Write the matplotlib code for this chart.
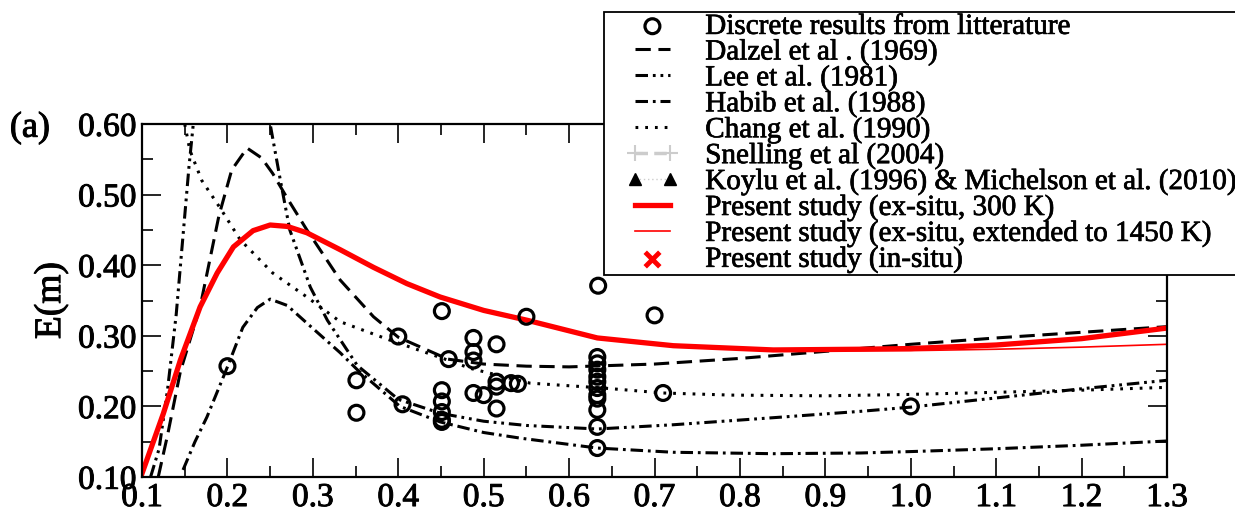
import matplotlib
matplotlib.use("Agg")
import matplotlib.pyplot as plt
from matplotlib.lines import Line2D
from matplotlib.collections import PathCollection
from matplotlib.legend_handler import HandlerLine2D, HandlerPathCollection
import matplotlib.patheffects as pe

plt.rcParams['font.family'] = ['Liberation Serif', 'DejaVu Serif']
plt.rcParams['lines.scale_dashes'] = False

# ---- data ----
lit_x = [0.2, 0.351, 0.351, 0.4, 0.405, 0.451, 0.459, 0.451, 0.451, 0.451, 0.451, 0.451,
         0.488, 0.488, 0.488, 0.488, 0.5, 0.515, 0.515, 0.515, 0.515, 0.532, 0.54, 0.55,
         0.634, 0.70, 0.71,
         0.633, 0.633, 0.633, 0.633, 0.633, 0.633, 0.633, 0.633, 0.633, 0.633, 0.633, 1.0]
lit_y = [0.257, 0.237, 0.191, 0.299, 0.203, 0.335, 0.267, 0.223, 0.207, 0.192, 0.181, 0.178,
         0.297, 0.277, 0.265, 0.219, 0.216, 0.288, 0.235, 0.228, 0.197, 0.233, 0.232, 0.327,
         0.371, 0.329, 0.219,
         0.270, 0.261, 0.242, 0.235, 0.226, 0.216, 0.211, 0.195, 0.171, 0.141, 0.252, 0.200]

dalzel_x = [0.119, 0.13, 0.145, 0.168, 0.19, 0.205, 0.223, 0.24, 0.253, 0.27, 0.293, 0.332,
            0.371, 0.4, 0.458, 0.5, 0.55, 0.6, 0.7, 0.8, 0.9, 1.0, 1.1, 1.2, 1.3]
dalzel_y = [0.10, 0.16, 0.25, 0.341, 0.47, 0.535, 0.566, 0.552, 0.53, 0.495, 0.45, 0.379,
            0.327, 0.298, 0.267, 0.260, 0.257, 0.256, 0.260, 0.268, 0.278, 0.288, 0.297, 0.305, 0.313]

lee_x = [0.11, 0.12, 0.13, 0.14, 0.145, 0.15, 0.155, 0.16, 0.17, 0.20, 0.23, 0.25, 0.262,
         0.273, 0.297, 0.317, 0.352, 0.40, 0.45, 0.5, 0.55, 0.633, 0.722, 0.839, 0.941, 1.0,
         1.1, 1.2, 1.3]
lee_y = [0.10, 0.14, 0.225, 0.33, 0.40, 0.47, 0.54, 0.60, 0.72, 0.86, 0.72, 0.60, 0.52,
         0.45, 0.369, 0.322, 0.258, 0.210, 0.190, 0.179, 0.173, 0.168, 0.174, 0.184, 0.193, 0.199,
         0.212, 0.225, 0.237]

habib_x = [0.148, 0.162, 0.176, 0.2, 0.218, 0.235, 0.25, 0.27, 0.293, 0.332, 0.352, 0.402,
           0.449, 0.5, 0.543, 0.633, 0.722, 0.839, 0.941, 1.0, 1.1, 1.2, 1.3]
habib_y = [0.11, 0.15, 0.185, 0.256, 0.312, 0.34, 0.352, 0.343, 0.318, 0.276, 0.252, 0.200,
           0.178, 0.163, 0.155, 0.141, 0.135, 0.133, 0.134, 0.136, 0.140, 0.145, 0.151]

chang_x = [0.15, 0.156, 0.17, 0.191, 0.215, 0.253, 0.293, 0.332, 0.39, 0.457, 0.484, 0.554,
           0.64, 0.71, 0.79, 0.9, 1.0, 1.1, 1.2, 1.3]
chang_y = [0.60, 0.563, 0.52, 0.482, 0.436, 0.389, 0.355, 0.320, 0.294, 0.266, 0.254, 0.233,
           0.226, 0.219, 0.216, 0.215, 0.217, 0.220, 0.223, 0.227]

ex300_x = [0.1, 0.125, 0.145, 0.168, 0.188, 0.207, 0.23, 0.25, 0.27, 0.293, 0.332, 0.371,
           0.41, 0.449, 0.5, 0.551, 0.633, 0.722, 0.839, 0.941, 1.0, 1.1, 1.2, 1.3]
ex300_y = [0.105, 0.19, 0.266, 0.341, 0.389, 0.426, 0.449, 0.457, 0.455, 0.446, 0.422, 0.397,
           0.374, 0.355, 0.336, 0.322, 0.297, 0.286, 0.280, 0.281, 0.282, 0.287, 0.296, 0.311]

ex1450_x = [0.1, 0.125, 0.145, 0.168, 0.188, 0.207, 0.23, 0.25, 0.27, 0.293, 0.332, 0.371,
            0.41, 0.449, 0.5, 0.551, 0.633, 0.722, 0.839, 0.941, 1.0, 1.1, 1.2, 1.3]
ex1450_y = [0.105, 0.19, 0.266, 0.341, 0.389, 0.426, 0.449, 0.457, 0.455, 0.446, 0.422, 0.397,
            0.374, 0.355, 0.336, 0.322, 0.297, 0.286, 0.280, 0.279, 0.279, 0.281, 0.284, 0.288]

x_ticks = [0.1, 0.2, 0.3, 0.4, 0.5, 0.6, 0.7, 0.8, 0.9, 1.0, 1.1, 1.2, 1.3]
y_ticks = [0.10, 0.20, 0.30, 0.40, 0.50, 0.60]

labels = ["Discrete results from litterature", "Dalzel et al . (1969)", "Lee et al. (1981)",
          "Habib et al. (1988)", "Chang et al. (1990)", "Snelling et al (2004)",
          "Koylu et al. (1996) & Michelson et al. (2010)", "Present study (ex-situ, 300 K)",
          "Present study (ex-situ, extended to 1450 K)", "Present study (in-situ)"]

# ---- figure ----
fig = plt.figure(figsize=(12.35, 5.17), dpi=100)
ax = fig.add_axes([0.115, 0.0774, 0.830, 0.6826])

heavy = [pe.withStroke(linewidth=0.7, foreground='black')]

lw = 2.2
h_dal, = ax.plot(dalzel_x, dalzel_y, color='black', lw=lw, ls=(0, (11, 5.5)))
h_lee, = ax.plot(lee_x, lee_y, color='black', lw=lw, ls=(0, (9, 3.5, 2, 3.5, 2, 3.5)))
h_hab, = ax.plot(habib_x, habib_y, color='black', lw=lw, ls=(0, (9, 3.5, 2, 3.5)))
h_cha, = ax.plot(chang_x, chang_y, color='black', lw=lw, ls=(0, (2, 5)))
h_thin, = ax.plot(ex1450_x, ex1450_y, color='red', lw=1.2)
h_thick, = ax.plot(ex300_x, ex300_y, color='red', lw=3.8)
h_lit = ax.scatter(lit_x, lit_y, s=115, facecolors='none', edgecolors='black', linewidths=2.3, zorder=5)
h_sne = Line2D([], [], color='#cccccc', lw=2.5, ls=(0, (9, 4.5)), marker='+', ms=12, mew=1.5)
h_koy = Line2D([], [], color='#cccccc', lw=1, ls=(0, (1, 2)), marker='^', ms=8,
               markerfacecolor='black', markeredgecolor='black')
h_ins = ax.scatter([], [], marker='x', s=110, color='red', linewidths=3.5)

ax.set_xlim(0.1, 1.3)
ax.set_ylim(0.10, 0.60)
ax.set_xticks(x_ticks)
ax.set_xticklabels([f"{v:.1f}" for v in x_ticks])
ax.set_yticks(y_ticks)
ax.set_yticklabels([f"{v:.2f}" for v in y_ticks])
ax.set_xticks([v + 0.05 for v in x_ticks[:-1]], minor=True)
ax.set_yticks([v + 0.05 for v in y_ticks[:-1]], minor=True)
ax.tick_params(which='both', direction='in', top=True, right=True, width=1.2, labelsize=24)
ax.tick_params(which='major', length=14, pad=4)
ax.tick_params(which='minor', length=8)
for lab in ax.get_xticklabels() + ax.get_yticklabels():
    lab.set_path_effects(heavy)
for s in ax.spines.values():
    s.set_linewidth(1.6)

yl = ax.set_ylabel("E(m)", fontsize=27, labelpad=7)
yl.set_path_effects(heavy)
fig.text(0.008, 0.752, "(a)", fontsize=26, ha='left', va='center', path_effects=heavy)

fs = 21
p = 0.70
hmap = {Line2D: HandlerLine2D(xpad=p), PathCollection: HandlerPathCollection(xpad=p)}
leg = ax.legend([h_lit, h_dal, h_lee, h_hab, h_cha, h_sne, h_koy, h_thick, h_thin, h_ins], labels,
                loc='upper left', bbox_to_anchor=(604 / 1235, 1 - 12 / 517),
                bbox_transform=fig.transFigure, fontsize=fs, frameon=True, fancybox=False,
                framealpha=1, edgecolor='black', borderpad=0.05, labelspacing=-0.035,
                handlelength=2.52, handletextpad=0.9, numpoints=2, scatterpoints=1,
                borderaxespad=0, handler_map=hmap)
leg.get_frame().set_linewidth(1.3)
leg.set_zorder(10)
for t in leg.get_texts():
    t.set_path_effects([pe.withStroke(linewidth=0.5, foreground='black')])

fig.savefig("out.png", dpi=100)
